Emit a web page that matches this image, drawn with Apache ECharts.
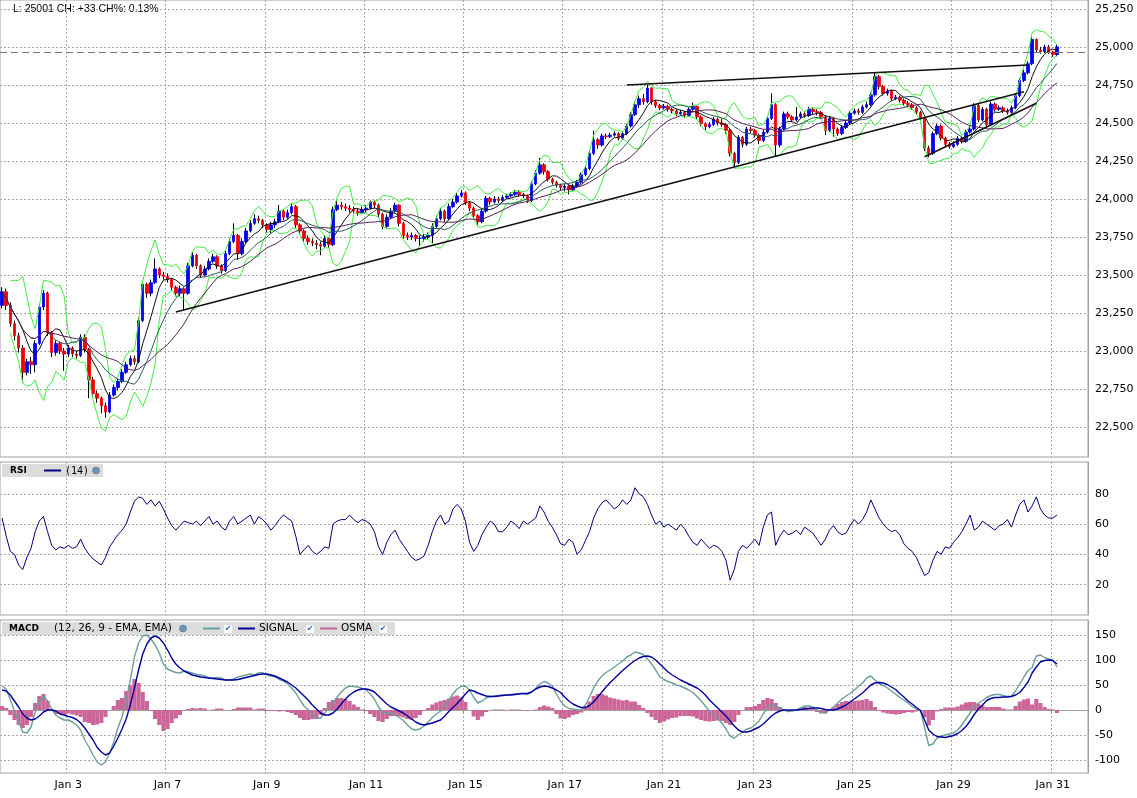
<!DOCTYPE html>
<html style="height: 100%">
<head>
    <meta charset="utf-8">
    <script src="https://cdn.jsdelivr.net/npm/echarts@6.0.0/dist/echarts.min.js"></script>
</head>
<body style="height: 100%; margin: 0; background: #fff">
<div id="container" style="width: 1137px; height: 798px"></div>

<script type="text/javascript">
    // trading days and how many bars each one holds
    var dayNames = ['Dec 31', 'Jan 2', 'Jan 3', 'Jan 4', 'Jan 7', 'Jan 8', 'Jan 9', 'Jan 10', 'Jan 11',
        'Jan 14', 'Jan 15', 'Jan 16', 'Jan 17', 'Jan 18', 'Jan 21', 'Jan 22', 'Jan 23', 'Jan 24',
        'Jan 25', 'Jan 28', 'Jan 29', 'Jan 30', 'Jan 31'];
    var barsPerDay = [4, 12, 12, 12, 12, 12, 12, 12, 12, 12, 12, 12, 12, 12, 10, 12, 12, 12, 12, 12, 12, 12, 2];
    var tickDays = ['Jan 3', 'Jan 7', 'Jan 9', 'Jan 11', 'Jan 15', 'Jan 17', 'Jan 21', 'Jan 23', 'Jan 25', 'Jan 29', 'Jan 31'];
    var padBars = 7;

    // price bars (open of a bar = close of the bar before)
    var firstOpen = 23300;
    var closes = [
        23390,23300,23180,23100,23020,22860,22930,22910,23050,23290,
        23380,23120,22990,23050,23000,22980,23020,22980,22970,23090,
        23010,22810,22720,22690,22640,22600,22710,22760,22800,22860,
        22910,22950,22930,23200,23440,23380,23450,23540,23500,23490,
        23470,23420,23380,23410,23380,23560,23630,23560,23500,23540,
        23590,23620,23560,23530,23640,23720,23760,23640,23720,23790,
        23840,23870,23860,23830,23800,23830,23850,23920,23880,23910,
        23950,23830,23790,23740,23720,23710,23700,23690,23740,23700,
        23930,23960,23950,23940,23930,23920,23910,23930,23940,23980,
        23960,23900,23820,23880,23920,23960,23840,23760,23750,23760,
        23740,23740,23750,23760,23820,23870,23920,23870,23950,23980,
        24020,24040,23975,23940,23890,23850,23920,24005,23980,24000,
        23990,24010,24020,24030,24045,24030,24020,23990,24100,24170,
        24225,24180,24130,24110,24090,24075,24085,24060,24085,24110,
        24160,24200,24300,24390,24355,24415,24410,24420,24430,24400,
        24430,24480,24555,24620,24660,24640,24730,24640,24615,24600,
        24610,24590,24580,24560,24570,24550,24590,24610,24540,24495,
        24475,24490,24525,24500,24490,24450,24300,24240,24405,24360,
        24460,24450,24420,24385,24440,24530,24620,24355,24460,24560,
        24540,24520,24540,24560,24550,24590,24575,24570,24540,24450,
        24530,24460,24430,24470,24500,24565,24580,24570,24605,24620,
        24685,24805,24740,24695,24710,24660,24670,24650,24630,24620,
        24600,24570,24530,24335,24300,24430,24480,24400,24360,24345,
        24360,24400,24380,24440,24460,24615,24520,24590,24490,24625,
        24590,24600,24580,24570,24600,24680,24780,24830,24890,25050,
        24980,24970,25000,24968,24950,25001
    ];
    var highs = [
        23420,23410,23320,23200,23120,23040,22950,22960,23070,23310,
        23400,23390,23130,23070,23060,23020,23040,23030,23000,23110,
        23110,23020,22830,22740,22700,22660,22730,22780,22820,22880,
        22930,22970,22970,23220,23460,23450,23470,23610,23550,23520,
        23510,23480,23430,23430,23420,23580,23650,23640,23570,23560,
        23610,23640,23630,23570,23660,23740,23840,23770,23740,23810,
        23860,23900,23890,23870,23840,23850,23870,23960,23930,23930,
        23970,23960,23840,23800,23760,23740,23730,23720,23760,23750,
        23950,23990,23980,23970,23960,23950,23940,23950,23960,23990,
        23990,23970,23910,23900,23940,23975,23965,23850,23780,23780,
        23770,23760,23770,23780,23840,23890,23940,23930,23970,24000,
        24040,24060,24050,23985,23950,23900,23940,24020,24015,24020,
        24015,24025,24035,24045,24060,24055,24040,24030,24115,24190,
        24270,24235,24190,24140,24120,24100,24100,24095,24100,24125,
        24175,24220,24320,24450,24400,24430,24430,24435,24445,24440,
        24445,24495,24570,24640,24680,24690,24750,24735,24650,24625,
        24625,24620,24600,24590,24585,24580,24605,24635,24615,24550,
        24505,24505,24540,24535,24530,24500,24460,24310,24420,24415,
        24475,24475,24460,24430,24455,24545,24695,24630,24475,24575,
        24575,24550,24605,24575,24575,24605,24600,24590,24580,24550,
        24545,24540,24470,24485,24515,24580,24595,24595,24620,24640,
        24700,24830,24815,24750,24725,24720,24685,24680,24660,24645,
        24630,24610,24580,24540,24350,24445,24495,24490,24410,24375,
        24380,24415,24410,24455,24480,24630,24625,24605,24600,24640,
        24635,24615,24610,24595,24615,24695,24795,24850,24905,25065,
        25055,25000,25015,25013,24975,25015
    ];
    var lows = [
        23280,23270,23160,23070,22990,22790,22840,22850,22860,23040,
        23270,23100,22960,22970,22980,22870,22960,22960,22950,22960,
        22990,22690,22700,22660,22590,22560,22590,22700,22740,22790,
        22850,22900,22910,22920,23190,23350,23360,23440,23480,23470,
        23450,23400,23360,23360,23270,23370,23550,23540,23480,23490,
        23530,23580,23540,23510,23520,23630,23710,23600,23630,23710,
        23780,23830,23840,23810,23780,23770,23810,23840,23860,23870,
        23900,23810,23770,23720,23700,23690,23670,23630,23680,23680,
        23690,23920,23930,23920,23910,23900,23890,23900,23910,23930,
        23940,23880,23800,23810,23870,23910,23820,23740,23730,23730,
        23720,23690,23720,23730,23710,23810,23860,23850,23860,23940,
        23970,24010,23960,23920,23870,23830,23840,23910,23960,23970,
        23975,23980,24000,24010,24020,24015,24005,23975,23980,24090,
        24160,24160,24115,24095,24075,24055,24050,24030,24050,24075,
        24100,24150,24190,24290,24330,24345,24395,24400,24410,24385,
        24390,24420,24470,24545,24600,24620,24630,24620,24600,24585,
        24590,24575,24565,24545,24550,24535,24540,24580,24525,24480,
        24455,24465,24480,24485,24475,24430,24280,24205,24230,24340,
        24350,24435,24405,24360,24375,24430,24520,24280,24340,24450,
        24525,24505,24510,24530,24535,24540,24560,24550,24525,24420,
        24440,24410,24415,24420,24460,24490,24555,24555,24560,24595,
        24610,24675,24720,24680,24680,24645,24650,24635,24615,24605,
        24585,24555,24515,24315,24275,24290,24420,24385,24340,24330,
        24335,24350,24365,24370,24430,24450,24505,24510,24475,24480,
        24575,24580,24565,24555,24560,24590,24670,24770,24820,24880,
        24960,24955,24960,24955,24935,24940
    ];

    // RSI (14)
    var rsi = [
        64,52,42,40,33,30,38,44,55,62, 65,55,46,43,45,44,46,44,45,50,
        44,40,37,35,33,38,45,49,53,56, 60,68,75,78,77,73,76,72,75,70,
        64,59,56,59,62,61,60,62,59,62, 65,60,62,58,56,62,65,60,62,64,
        66,60,65,63,60,56,59,63,66,64, 62,52,40,43,46,42,40,42,45,44,
        60,62,63,63,66,63,61,63,62,60, 55,45,40,48,53,56,50,46,42,38,
        36,37,39,46,55,62,66,60,62,70, 73,70,62,48,42,46,53,58,62,60,
        55,55,58,62,60,57,62,60,62,64, 72,68,62,58,53,47,46,50,48,40,
        43,49,55,64,70,74,76,73,70,72, 76,73,76,84,80,78,73,66,60,62,
        58,60,58,56,60,57,52,48,46,50, 47,44,46,45,42,36,23,30,42,46,
        44,47,50,46,58,66,68,46,52,56, 53,54,56,53,58,56,54,50,46,50,
        56,59,55,53,54,59,63,60,63,68, 76,70,64,60,57,55,56,53,47,44,
        42,38,32,26,28,36,42,40,45,44, 48,51,55,60,66,56,58,62,60,58,
        56,59,60,63,58,66,73,76,68,72, 78,70,66,64,64,66
    ];

    // MACD (12, 26, 9) and its signal line
    var macd = [
        48,42,20,-2,-24,-44,-46,-34,-4,16, 28,18,2,-10,-16,-20,-20,-24,-30,-40,
        -60,-74,-90,-104,-110,-104,-86,-64,-36,-14, 20,60,106,134,148,150,142,130,114,92,
        82,78,75,74,78,76,74,71,70,68, 64,64,65,64,60,60,62,66,68,70,
        72,70,74,75,70,68,66,61,58,52, 44,34,20,8,0,-8,-16,-16,-6,6,
        14,26,36,44,48,47,46,43,40,32, 22,6,-4,-6,-6,-10,-15,-21,-30,-38,
        -40,-38,-32,-24,-15,-8,-2,8,20,32, 42,47,48,40,25,14,18,24,27,28,
        29,30,30,31,32,33,33,31,36,43, 52,57,54,48,32,18,8,3,2,0,
        0,10,26,44,58,68,75,80,86,92, 98,106,110,116,114,111,102,92,80,66,
        61,57,54,50,48,44,40,35,27,18, 8,-3,-10,-17,-26,-38,-52,-56,-50,-44,
        -38,-36,-30,-22,-8,4,10,8,4,0, -3,-2,0,4,8,8,6,0,-4,-6,
        0,6,14,22,28,33,40,47,54,64, 68,60,53,49,44,38,32,25,20,14,
        7,2,-1,-35,-71,-68,-56,-52,-50,-48, -46,-40,-30,-18,-6,7,14,19,25,29,
        31,31,29,27,28,38,52,66,79,85, 108,110,105,102,100,86
    ];
    var signal = [
        40,38,30,18,6,-8,-16,-20,-18,-12, -4,0,0,-2,-8,-10,-13,-15,-19,-26,
        -36,-48,-60,-75,-84,-90,-86,-72,-56,-38, -18,10,44,80,112,132,144,148,144,134,
        120,104,92,84,78,74,70,68,66,65, 64,63,62,61,60,60,60,61,63,65,
        67,69,71,72,72,70,68,64,60,56, 50,44,36,28,20,10,2,-6,-10,-10,
        -6,2,12,22,30,36,40,42,42,40, 36,28,20,12,6,2,-2,-6,-12,-18,
        -24,-28,-30,-28,-26,-23,-20,-12,-3,5, 13,22,32,40,38,34,31,28,27,27,
        28,29,30,30,31,32,33,33,36,42, 46,48,47,44,40,35,26,18,12,8,
        5,5,9,16,26,36,46,55,63,71, 79,86,93,99,104,107,108,106,100,92,
        84,76,70,65,60,56,52,48,44,38, 30,20,12,4,-4,-12,-22,-32,-40,-44,
        -44,-42,-38,-34,-28,-20,-12,-6,-2,0, 0,0,0,1,2,3,4,4,3,1,
        0,0,2,6,10,16,22,28,34,42, 50,54,55,54,51,46,41,33,26,18,
        12,5,-1,-20,-40,-48,-53,-54,-55,-53, -51,-47,-41,-33,-22,-9,2,10,19,23,
        25,25,26,26,27,30,35,45,56,74, 86,96,99,100,99,92
    ];

    // drawn trend lines: [bar, price, bar, price]
    var trendLines = [
        [42, 23257, 247, 24706],
        [151, 24750, 248, 24882],
        [223, 24278, 250, 24630]
    ];
    var prevCloseBar = 253;

    var priceTicks = [22500, 22750, 23000, 23250, 23500, 23750, 24000, 24250, 24500, 24750, 25000, 25250];
    var rsiTicks = [20, 40, 60, 80];
    var macdTicks = [-100, -50, 0, 50, 100, 150];

    // ---- build what the chart needs ----
    var cats = [], tickIdx = {};
    dayNames.forEach(function (d, k) {
        if (tickDays.indexOf(d) >= 0) tickIdx[cats.length] = true;
        for (var j = 0; j < barsPerDay[k]; j++) cats.push(d);
    });
    for (var p = 0; p < padBars; p++) cats.push('');
    var isTick = function (idx) { return !!tickIdx[idx]; };

    var opens = closes.map(function (c, i) { return i === 0 ? firstOpen : closes[i - 1]; });
    var ohlc = closes.map(function (c, i) { return [opens[i], c, lows[i], highs[i]]; });
    var bodies = closes.map(function (c, i) {
        return [opens[i], c, Math.min(opens[i], c), Math.max(opens[i], c)];
    });

    function movingAvg(n) {
        return closes.map(function (c, i) {
            var s = Math.max(0, i - n + 1), sum = 0;
            for (var k = s; k <= i; k++) sum += closes[k];
            return +(sum / (i - s + 1)).toFixed(1);
        });
    }
    function band(n, mult, side) {
        return closes.map(function (c, i) {
            if (i < 2) return '-';
            var s = Math.max(0, i - n + 1), cnt = i - s + 1, sum = 0, sq = 0;
            for (var k = s; k <= i; k++) sum += closes[k];
            var m = sum / cnt;
            for (k = s; k <= i; k++) sq += (closes[k] - m) * (closes[k] - m);
            return +(m + side * mult * Math.sqrt(sq / cnt)).toFixed(1);
        });
    }
    var osma = macd.map(function (v, i) { return v - signal[i]; });

    var last = closes[closes.length - 1], prev = closes[prevCloseBar];
    var ch = last - prev;
    var headerText = 'L: ' + last + ' CH: ' + (ch >= 0 ? '+' : '') + ch + ' CH%: ' + (ch / prev * 100).toFixed(2) + '%';

    var font = 'DejaVu Sans';
    var dotted = {color: '#a9a9a9', type: [2, 2], width: 1};
    var grids = [
        {left: 0, width: 1088, top: 0, height: 457},
        {left: 0, width: 1088, top: 462, height: 153},
        {left: 0, width: 1088, top: 620, height: 153}
    ].map(function (g) {
        g.show = true; g.borderColor = '#a0a0a0'; g.borderWidth = 1; g.containLabel = false;
        g.outerBoundsMode = 'none';
        return g;
    });

    function xAxis(i) {
        var bottom = i === 2;
        return {
            type: 'category', gridIndex: i, data: cats, boundaryGap: true,
            axisLine: {show: bottom, lineStyle: {color: '#a0a0a0'}},
            axisTick: {show: bottom, interval: isTick, length: 4, lineStyle: {color: '#909090'}},
            axisLabel: {show: bottom, interval: isTick, color: '#000', fontFamily: font, fontSize: 11, margin: 7},
            splitLine: {show: true, interval: isTick, lineStyle: dotted}
        };
    }
    function yAxis(i, min, max, ticks) {
        return {
            type: 'value', gridIndex: i, position: 'right', min: min, max: max,
            axisLine: {show: true, lineStyle: {color: '#a0a0a0'}},
            axisTick: {show: false, customValues: ticks},
            axisLabel: {customValues: ticks, color: '#000', fontFamily: font, fontSize: 11, margin: 7},
            splitLine: {show: true, lineStyle: dotted}
        };
    }

    var markData = trendLines.map(function (t) {
        return [{coord: [t[0], t[1]], lineStyle: {color: '#111', width: 1.5, type: 'solid'}},
            {coord: [t[2], t[3]]}];
    });
    markData.push({yAxis: prev, lineStyle: {color: '#777', width: 1, type: [7, 4]}});

    var lineOf = function (name, data, color, width, xi) {
        return {
            name: name, type: 'line', data: data, xAxisIndex: xi || 0, yAxisIndex: xi || 0,
            symbol: 'none', lineStyle: {color: color, width: width}, silent: true
        };
    };

    var chart = echarts.init(document.getElementById('container'));
    var option = {
        animation: false,
        backgroundColor: '#fff',
        grid: grids,
        xAxis: [xAxis(0), xAxis(1), xAxis(2)],
        yAxis: [
            yAxis(0, 22303, 25309, priceTicks),
            yAxis(1, 0, 101, rsiTicks),
            yAxis(2, -126, 180, macdTicks)
        ],
        series: [
            lineOf('BB upper', band(6, 2, 1), '#3fee3f', 1),
            lineOf('BB lower', band(6, 2, -1), '#3fee3f', 1),
            {
                name: 'wick', type: 'candlestick', data: ohlc, barWidth: 1, silent: true,
                itemStyle: {color: '#000', color0: '#000', borderColor: '#000', borderColor0: '#000', borderWidth: 1}
            },
            {
                name: 'body', type: 'candlestick', data: bodies, barWidth: 3, silent: true,
                itemStyle: {
                    color: '#0000f0', color0: '#f00000',
                    borderColor: '#0000f0', borderColor0: '#f00000', borderWidth: 0.8
                }
            },
            lineOf('MA 6', movingAvg(6), '#111111', 1),
            lineOf('MA 12', movingAvg(12), '#2d5b5b', 1),
            Object.assign(lineOf('MA 20', movingAvg(20), '#561f56', 1), {
                markLine: {silent: true, symbol: ['none', 'none'], label: {show: false}, data: markData}
            }),
            lineOf('RSI', rsi, '#000080', 1, 1),
            {
                name: 'OSMA', type: 'bar', data: osma, xAxisIndex: 2, yAxisIndex: 2,
                barCategoryGap: '0%', itemStyle: {color: '#cc6699'}, silent: true
            },
            lineOf('MACD', macd, '#6b9e9c', 1.4, 2),
            lineOf('SIGNAL', signal, '#0000a0', 1.4, 2)
        ],
        graphic: [
            {type: 'text', x: 13, y: 9, style: {text: headerText, font: '10.5px "Liberation Sans"', fill: '#000', verticalAlign: 'middle'}},
            // RSI header
            {type: 'rect', shape: {x: 2, y: 464, width: 101, height: 13}, style: {fill: '#dcdcdc'}},
            {type: 'text', x: 10, y: 470.5, style: {text: 'RSI', font: 'bold 9px "DejaVu Sans"', fill: '#000', verticalAlign: 'middle'}},
            {type: 'line', shape: {x1: 44, y1: 470.5, x2: 61, y2: 470.5}, style: {stroke: '#000080', lineWidth: 2}},
            {type: 'text', x: 65, y: 471, style: {text: '(14)', font: '10px "DejaVu Sans Mono"', fill: '#000', verticalAlign: 'middle'}},
            {type: 'circle', shape: {cx: 96, cy: 470.5, r: 3.5}, style: {fill: '#7393b3', stroke: '#4a6a8a', lineWidth: 0.5}},
            // MACD header
            {type: 'rect', shape: {x: 2, y: 622, width: 393, height: 13}, style: {fill: '#dcdcdc'}},
            {type: 'text', x: 9, y: 628.5, style: {text: 'MACD', font: 'bold 9px "DejaVu Sans"', fill: '#000', verticalAlign: 'middle'}},
            {type: 'text', x: 54, y: 628.5, style: {text: '(12, 26, 9 - EMA, EMA)', font: '10.5px "DejaVu Sans"', fill: '#000', verticalAlign: 'middle'}},
            {type: 'circle', shape: {cx: 183, cy: 628.5, r: 3.5}, style: {fill: '#7393b3', stroke: '#4a6a8a', lineWidth: 0.5}},
            {type: 'line', shape: {x1: 203, y1: 628.5, x2: 220, y2: 628.5}, style: {stroke: '#6b9e9c', lineWidth: 2}},
            {type: 'rect', shape: {x: 224, y: 625, width: 8, height: 8}, style: {fill: '#fff'}},
            {type: 'text', x: 228, y: 629, style: {text: '\u2714', font: '8px "DejaVu Sans"', fill: '#2a62d8', align: 'center', verticalAlign: 'middle'}},
            {type: 'line', shape: {x1: 238, y1: 628.5, x2: 255, y2: 628.5}, style: {stroke: '#0000a0', lineWidth: 2}},
            {type: 'text', x: 259, y: 628.5, style: {text: 'SIGNAL', font: '10.5px "DejaVu Sans"', fill: '#000', verticalAlign: 'middle'}},
            {type: 'rect', shape: {x: 306, y: 625, width: 8, height: 8}, style: {fill: '#fff'}},
            {type: 'text', x: 310, y: 629, style: {text: '\u2714', font: '8px "DejaVu Sans"', fill: '#2a62d8', align: 'center', verticalAlign: 'middle'}},
            {type: 'line', shape: {x1: 320, y1: 628.5, x2: 337, y2: 628.5}, style: {stroke: '#cc6699', lineWidth: 2}},
            {type: 'text', x: 341, y: 628.5, style: {text: 'OSMA', font: '10.5px "DejaVu Sans"', fill: '#000', verticalAlign: 'middle'}},
            {type: 'rect', shape: {x: 379, y: 625, width: 8, height: 8}, style: {fill: '#fff'}},
            {type: 'text', x: 383, y: 629, style: {text: '\u2714', font: '8px "DejaVu Sans"', fill: '#2a62d8', align: 'center', verticalAlign: 'middle'}}
        ]
    };
    chart.setOption(option);
</script>
</body>
</html>
